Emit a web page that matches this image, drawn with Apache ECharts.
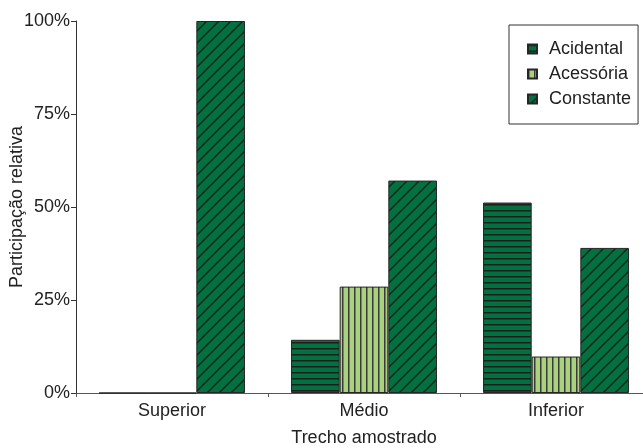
<!DOCTYPE html>
<html>
<head>
<meta charset="utf-8">
<script src="https://cdn.jsdelivr.net/npm/echarts@6/dist/echarts.min.js"></script>
<style>
html,body{margin:0;padding:0;background:#fff;overflow:hidden;width:643px;height:448px;}
#chart{width:680px;height:448px;}
</style>
</head>
<body>
<div id="chart"></div>
<script>
const categories = ['Superior', 'Médio', 'Inferior'];
const seriesNames = ['Acidental', 'Acessória', 'Constante'];
const acidental = [0, 14.3, 51.2];
const acessoria = [0, 28.6, 9.8];
const constante = [100, 57.1, 39.0];
const yTicks = [0, 25, 50, 75, 100];

const DARK = '#00713f';
const LIGHT = '#a8d27c';
const LINE = '#1e1e1e';

function makeTile(size, bg, draw) {
  const c = document.createElement('canvas');
  c.width = size; c.height = size;
  const ctx = c.getContext('2d');
  ctx.fillStyle = bg;
  ctx.fillRect(0, 0, size, size);
  draw(ctx, size);
  return c;
}
const horizTile = makeTile(6, DARK, (ctx, s) => {
  ctx.fillStyle = LINE;
  ctx.fillRect(0, 0, s, 1.5);
});
const vertTile = makeTile(6, LIGHT, (ctx, s) => {
  ctx.fillStyle = '#3a3a3a';
  ctx.fillRect(0, 0, 1.5, s);
});
const diagTile = makeTile(12, DARK, (ctx, s) => {
  ctx.strokeStyle = LINE;
  ctx.lineWidth = 1.4;
  ctx.beginPath();
  ctx.moveTo(0, s); ctx.lineTo(s, 0);
  ctx.moveTo(-2, 2); ctx.lineTo(2, -2);
  ctx.moveTo(s - 2, s + 2); ctx.lineTo(s + 2, s - 2);
  ctx.stroke();
});

const FONT = 'Liberation Sans, Arial, sans-serif';
const TXT = '#222';
const chart = echarts.init(document.getElementById('chart'), null, {renderer: 'canvas'});

function bar(name, data, tile) {
  return {
    name: name,
    type: 'bar',
    data: data,
    barGap: '0%',
    barCategoryGap: '24%',
    itemStyle: {
      color: {image: tile, repeat: 'repeat'},
      borderColor: '#262626',
      borderWidth: 1
    },
    emphasis: {disabled: true}
  };
}

chart.setOption({
  animation: false,
  backgroundColor: '#ffffff',
  textStyle: {fontFamily: FONT},
  grid: {left: 76, top: 21, width: 576, height: 372, containLabel: false, outerBoundsMode: 'none'},
  legend: {
    orient: 'vertical',
    left: 509,
    top: 25,
    data: seriesNames,
    icon: 'rect',
    itemWidth: 9,
    itemHeight: 9,
    itemGap: 7,
    padding: [15, 7, 16, 18],
    borderColor: '#333',
    borderWidth: 1,
    textStyle: {fontFamily: FONT, fontSize: 18, color: TXT, padding: [0, 0, 0, 7]}
  },
  xAxis: {
    type: 'category',
    data: categories,
    name: 'Trecho amostrado',
    nameLocation: 'middle',
    nameGap: 36,
    nameMoveOverlap: false,
    nameTextStyle: {fontFamily: FONT, fontSize: 18, color: TXT},
    axisLine: {lineStyle: {color: '#555', width: 1}},
    axisTick: {show: true, length: 4, lineStyle: {color: '#555'}},
    axisLabel: {fontFamily: FONT, fontSize: 18, color: TXT, margin: 9}
  },
  yAxis: {
    type: 'value',
    min: yTicks[0],
    max: yTicks[yTicks.length - 1],
    interval: 25,
    name: 'Participação relativa',
    nameLocation: 'middle',
    nameGap: 50,
    nameMoveOverlap: false,
    nameTextStyle: {fontFamily: FONT, fontSize: 18, color: TXT},
    axisLine: {show: true, lineStyle: {color: '#333', width: 1}},
    axisTick: {show: true, length: 5, lineStyle: {color: '#333'}},
    splitLine: {show: false},
    axisLabel: {fontFamily: FONT, fontSize: 18, color: TXT, margin: 6, formatter: '{value}%'}
  },
  series: [
    bar(seriesNames[0], acidental, horizTile),
    bar(seriesNames[1], acessoria, vertTile),
    bar(seriesNames[2], constante, diagTile)
  ]
});
</script>
</body>
</html>
